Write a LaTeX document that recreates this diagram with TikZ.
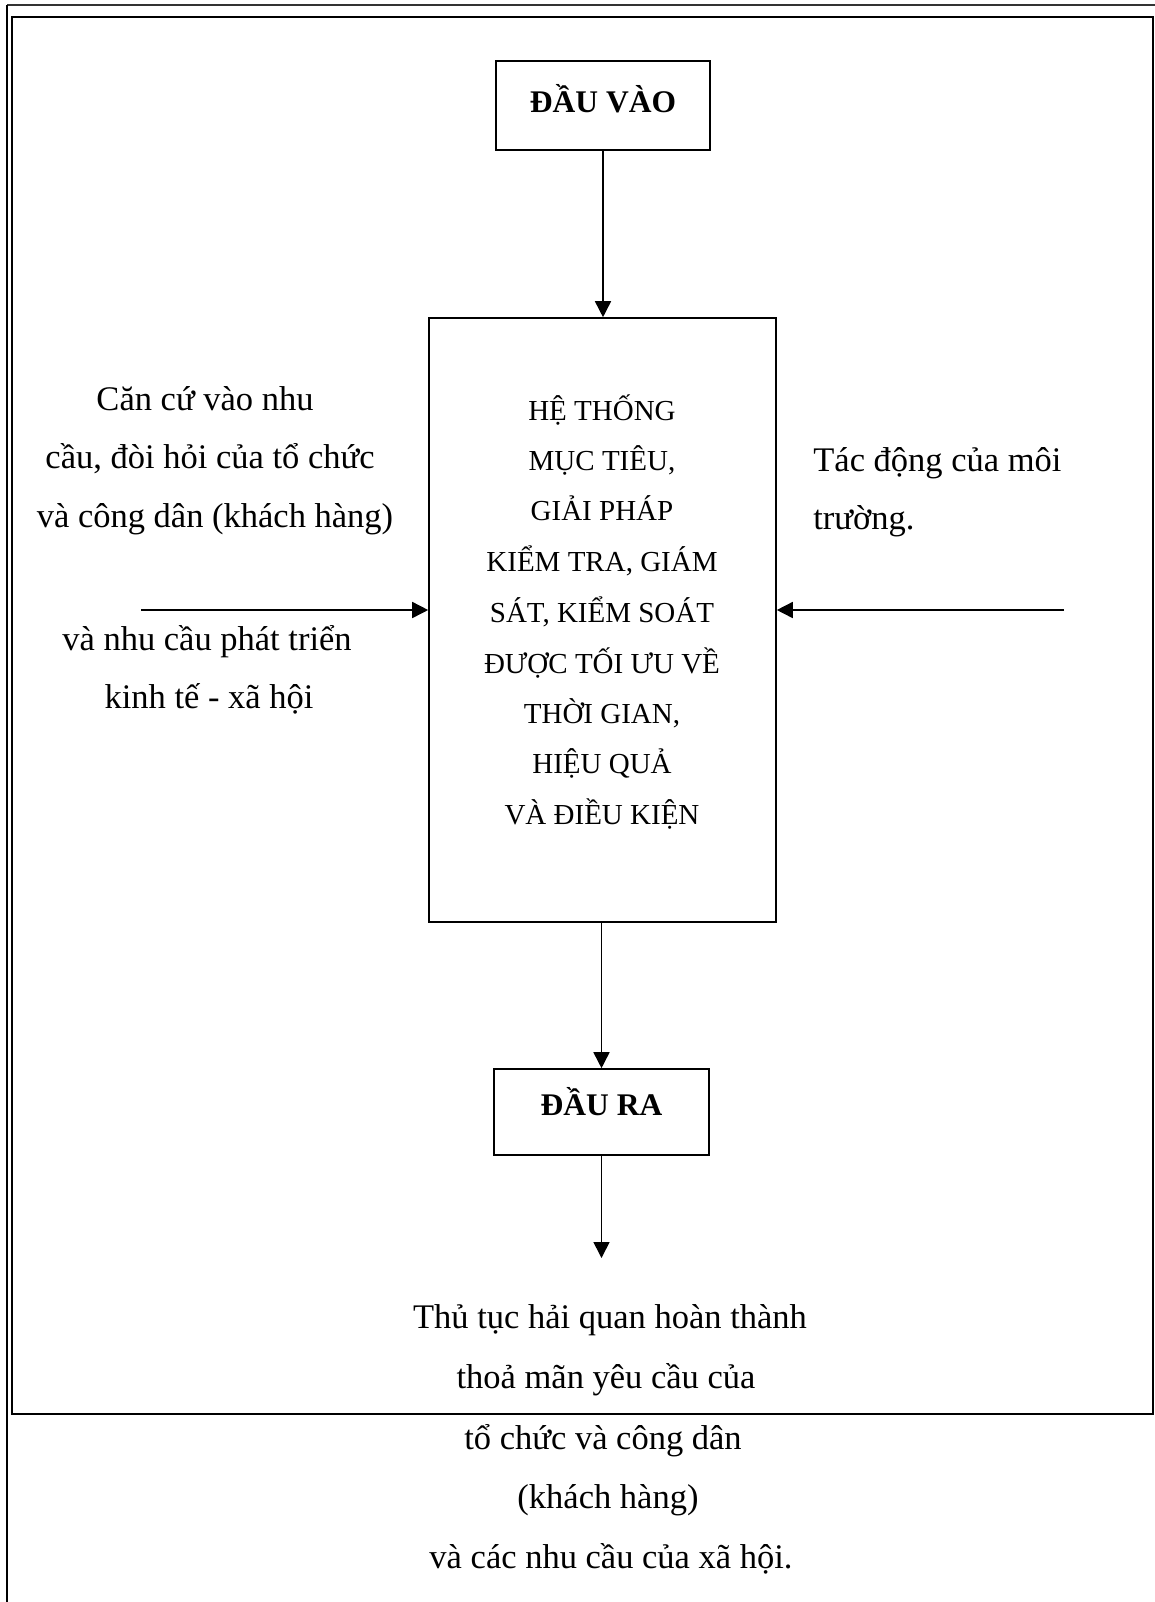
\documentclass[tikz,border=0pt]{standalone}
\usepackage{fontspec}
\setmainfont{Liberation Serif}
\usetikzlibrary{arrows.meta}
\begin{document}
\begin{tikzpicture}[x=0.5pt,y=-0.5pt,
  boxnode/.style={draw, line width=0.8pt, inner sep=0pt},
  flow/.style={line width=0.8pt, -{Triangle[length=8pt,width=8pt]}},
  side/.style={font=\fontsize{17.25}{20}\selectfont, anchor=base, inner sep=0pt},
  core/.style={font=\fontsize{14.5}{17}\selectfont, anchor=base, inner sep=0pt},
  title/.style={font=\bfseries\fontsize{15.75}{18}\selectfont}]
\useasboundingbox (0,0) rectangle (1155,1602);
\fill[white] (0,0) rectangle (1155,1602);
% page border and frame
\draw[line width=1pt, black!80] (7,5) -- (1155,5);
\draw[line width=1pt] (7,5) -- (7,1602);
\draw[line width=1pt] (12,17) rectangle (1153,1414);

% boxes
\node[boxnode, minimum width=107pt, minimum height=44.5pt, title,
      text height=12pt, text depth=5.5pt] (in) at (603,105.5) {ĐẦU VÀO};
\node[boxnode, minimum width=173.5pt, minimum height=302pt] (main) at (602.5,620) {};
\node[boxnode, minimum width=107.5pt, minimum height=43pt, title,
      text height=10pt, text depth=7pt] (out) at (601.5,1112) {ĐẦU RA};

% text inside the central box
\node[core] (m1) at (602,420) {HỆ THỐNG};
\node[core] (m2) at (602,470) {MỤC TIÊU,};
\node[core] (m3) at (602,520) {GIẢI PHÁP};
\node[core] (m4) at (602,571) {KIỂM TRA, GIÁM};
\node[core] (m5) at (602,622) {SÁT, KIỂM SOÁT};
\node[core] (m6) at (602,673) {ĐƯỢC TỐI ƯU VỀ};
\node[core] (m7) at (602,723) {THỜI GIAN,};
\node[core] (m8) at (602,773) {HIỆU QUẢ};
\node[core] (m9) at (602,824) {VÀ ĐIỀU KIỆN};

% left inputs
\node[side] (l1) at (205,410) {Căn cứ vào nhu};
\node[side] (l2) at (210,468.5) {cầu, đòi hỏi của tổ chức};
\node[side] (l3) at (215,527) {và công dân (khách hàng)};
\node[side] (l4) at (207,650) {và nhu cầu phát triển};
\node[side] (l5) at (209,708) {kinh tế - xã hội};

% right input
\node[side, anchor=base west] (r1) at (813,471) {Tác động của môi};
\node[side, anchor=base west] (r2) at (813,529) {trường.};

% result
\node[side] (b1) at (610,1328) {Thủ tục hải quan hoàn thành};
\node[side] (b2) at (606,1388) {thoả mãn yêu cầu của};
\node[side] (b3) at (603,1449) {tổ chức và công dân};
\node[side] (b4) at (608,1508) {(khách hàng)};
\node[side] (b5) at (611,1568) {và các nhu cầu của xã hội.};

% connectors
\coordinate (lstart) at (141,610);
\coordinate (rstart) at (1064,610);
\coordinate (result) at (603,1258);
\draw[flow] (in.south) -- (in.south |- main.north);
\draw[flow] (lstart) -- (lstart -| main.west);
\draw[flow] (rstart) -- (rstart -| main.east);
\draw[flow] (main.south -| out.north) -- (out.north);
\draw[flow] (out.south) -- (out.south |- result);
\end{tikzpicture}
\end{document}
